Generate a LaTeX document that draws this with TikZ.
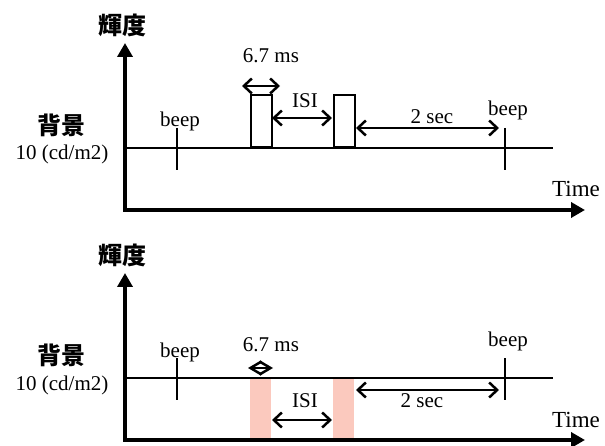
\documentclass[tikz,border=0pt]{standalone}
\usepackage{fontspec}
\setmainfont{Liberation Serif}
\newfontfamily\jpfont{Noto Sans CJK JP}
\usetikzlibrary{positioning, arrows.meta}
\definecolor{flash_pink}{RGB}{251,201,190}

\begin{document}
\begin{tikzpicture}[
                        x=1pt, y=-1pt,
                        axis/.style={line width=4pt, line join=miter, {Triangle[length=14pt,width=15pt]}-{Triangle[length=14pt,width=15pt]}},
                        level/.style={line width=2.5pt},
                        beep/.style={line width=2.5pt},
                        gap/.style={line width=2.5pt, {Straight Barb[length=8pt,width=15pt]}-{Straight Barb[length=8pt,width=15pt]}},
                        pulse/.style={draw, line width=2pt, minimum width=21pt, minimum height=52pt, inner sep=0pt, anchor=south west},
                        flash/.style={fill=flash_pink, minimum width=21pt, minimum height=62pt, inner sep=0pt, anchor=north west},
                        txt/.style={font=\fontsize{21}{24}\selectfont, inner sep=0pt, anchor=base},
                        jp/.style={font=\jpfont\bfseries\fontsize{24}{28}\selectfont, inner sep=0pt},
                    ]
                        \useasboundingbox (0,0) rectangle (605,446);

                        % flashes of the lower panel, under the lines
                        \node[flash] (flash1) at (250,378) {};
                        \node[flash] (flash2) at (333,378) {};

                        % axes, background level and beeps of both panels
                        \foreach \p/\dy in {a/0, b/230} {
                            \begin{scope}[shift={(0,\dy)}]
                                \coordinate (ytip\p) at (125,43);
                                \coordinate (origin\p) at (125,210);
                                \coordinate (xtip\p) at (585,210);
                                \draw[axis] (ytip\p) -- (origin\p) -- (xtip\p);

                                \coordinate (level_start\p) at (125,148);
                                \coordinate (level_end\p) at (553,148);
                                \draw[level] (level_start\p) -- (level_end\p);

                                \coordinate (beep_top1\p) at (177,128);
                                \coordinate (beep_bottom1\p) at (177,170);
                                \coordinate (beep_top2\p) at (505,128);
                                \coordinate (beep_bottom2\p) at (505,170);
                                \draw[beep] (beep_top1\p) -- (beep_bottom1\p);
                                \draw[beep] (beep_top2\p) -- (beep_bottom2\p);

                                % labels
                                \node[jp] (luminance_label\p) at (122,25) {輝度};
                                \node[jp] (background_label\p) at (61,125) {背景};
                                \node[txt] (level_label\p) at (62,160) {10 (cd/m2)};
                                \node[txt] (beep_label1\p) at (180,127) {beep};
                                \node[txt] (beep_label2\p) at (508,116) {beep};
                                \node[txt, font=\fontsize{23}{26}\selectfont] (time_label\p) at (576,197) {Time};
                            \end{scope}
                        }

                        % upper panel: two white pulses
                        \node[pulse] (pulse1) at (250,148) {};
                        \node[pulse] (pulse2) at (333,148) {};

                        \coordinate (width_left) at (242,86);
                        \coordinate (width_right) at (280,86);
                        \coordinate (isi_left) at (272,118);
                        \coordinate (isi_right) at (332,118);
                        \coordinate (sec_left) at (356,128);
                        \coordinate (sec_right) at (499,128);
                        \draw[gap] (width_left) -- (width_right);
                        \draw[gap] (isi_left) -- (isi_right);
                        \draw[gap] (sec_left) -- (sec_right);

                        \node[txt] (width_label) at (271,63) {6.7 ms};
                        \node[txt] (isi_label) at (305,108) {ISI};
                        \node[txt] (sec_label) at (432,124) {2 sec};

                        % lower panel: two dark flashes
                        \coordinate (width_left_b) at (248,368);
                        \coordinate (width_right_b) at (273,368);
                        \coordinate (isi_left_b) at (272,420);
                        \coordinate (isi_right_b) at (332,420);
                        \coordinate (sec_left_b) at (356,390);
                        \coordinate (sec_right_b) at (499,390);
                        \draw[gap, {Straight Barb[length=11pt,width=13pt]}-{Straight Barb[length=11pt,width=13pt]}] (width_left_b) -- (width_right_b);
                        \draw[gap] (isi_left_b) -- (isi_right_b);
                        \draw[gap] (sec_left_b) -- (sec_right_b);

                        \node[txt] (width_label_b) at (271,352) {6.7 ms};
                        \node[txt] (isi_label_b) at (305,407) {ISI};
                        \node[txt] (sec_label_b) at (422,407) {2 sec};
                    \end{tikzpicture}
\end{document}
